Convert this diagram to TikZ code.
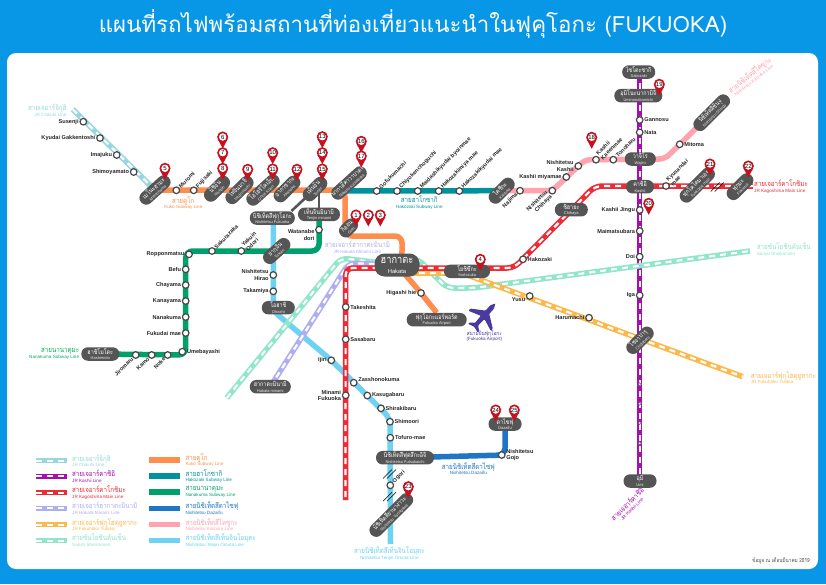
\documentclass[tikz,border=0pt]{standalone}
\usepackage{fontspec}
\setsansfont{Liberation Sans}
\newfontfamily\thaifont[Script=Thai]{Loma}
\newfontfamily\thainarrow[Script=Thai,FakeStretch=0.84]{Loma}
\usetikzlibrary{positioning}
\pgfdeclarelayer{lines}
\pgfsetlayers{lines,main}
\definecolor{skyblue}{HTML}{0897E6}
\definecolor{hubgray}{HTML}{555555}
\definecolor{pinred}{HTML}{C8101E}
\definecolor{chikuhi}{HTML}{98D7DE}
\definecolor{kashiiline}{HTML}{A80DB2}
\definecolor{kagoshima}{HTML}{EE2A35}
\definecolor{hakataminami}{HTML}{B0AEF2}
\definecolor{yutaka}{HTML}{FDB84A}
\definecolor{sanyo}{HTML}{90E6C8}
\definecolor{kuko}{HTML}{FF8E4E}
\definecolor{hakozaki}{HTML}{00929C}
\definecolor{nanakuma}{HTML}{00A06C}
\definecolor{dazaifu}{HTML}{1F76C6}
\definecolor{kaizuka}{HTML}{FFA3AE}
\definecolor{omuta}{HTML}{6ED2F3}
\definecolor{planeblue}{HTML}{4A399E}
\newcommand{\hth}[1]{{\thainarrow\fontsize{6.4}{5.6}\selectfont #1}}
\newcommand{\hen}[1]{{\sffamily\fontsize{4}{5}\selectfont\color{black!8} #1}}
\newcommand{\lth}[1]{{\thainarrow\fontsize{7.4}{6}\selectfont #1}}
\newcommand{\len}[1]{{\sffamily\fontsize{4.6}{5}\selectfont #1}}
\tikzset{
	lineplain/.style={line width=5.5pt,rounded corners=7pt},
	linejr/.style={line width=5.5pt,rounded corners=7pt,postaction={draw=white,line width=2.2pt,dash pattern=on 6pt off 5pt}},
	linkbar/.style={line width=2.6pt,draw=hubgray},
	slashmark/.style={line width=0.6pt,draw=black},
	hub/.style={rectangle,rounded corners=6.5pt,fill=hubgray,text=white,align=center,minimum height=13.5pt,inner sep=0pt,font=\fontsize{5}{5.6}\selectfont},
	hubwide/.style={hub,rounded corners=10pt,minimum height=23pt},
	stn/.style={circle,draw=black!72,fill=white,line width=1.2pt,minimum size=6.6pt,inner sep=0pt},
	stnsmall/.style={circle,draw=black!60,fill=white,line width=0.6pt,minimum size=3.2pt,inner sep=0pt},
	pinmark/.style={circle,draw=pinred,fill=white,line width=1.6pt,minimum size=9.4pt,inner sep=0pt,font=\sffamily\fontsize{6}{6}\selectfont},
	every label/.style={font=\sffamily\bfseries\fontsize{5.6}{6.4}\selectfont,inner sep=0.6pt,text=black!85},
	up45/.style={rotate=45,anchor=west,align=left},
	dn45/.style={rotate=45,anchor=east,align=right},
	linetag/.style={align=center,inner sep=0pt,font=\fontsize{5}{5.6}\selectfont},
}
\newcommand{\pinat}[3]{
	\fill [pinred] (#1-5,#2+2) -- (#1,#2+11.5) -- (#1+5,#2+2) -- cycle;
	\node [pinmark] (pin#3) at (#1,#2) {#3};
}
\newcommand{\slashat}[2]{
	\draw [slashmark] (#1-6,#2+4.5) -- (#1+3,#2-4.5);
	\draw [slashmark] (#1-2,#2+4.5) -- (#1+7,#2-4.5);
}
\newcommand{\legendrow}[7]{
	\coordinate (#1a) at (#2,#3);
	\coordinate (#1b) at (#2+31,#3);
	\draw [#4,draw=#5,rounded corners=0pt] (#1a) -- (#1b);
	\node [linetag,text=#5,anchor=west,align=left] (#1t) at (#2+36,#3) {\lth{#6}\\\len{#7}};
}
\begin{document}
\begin{tikzpicture}[x=1pt,y=-1pt]
		\useasboundingbox (0,0) rectangle (826,584);
		% background
		\begin{pgfonlayer}{lines}
		\fill [skyblue] (0,0) rectangle (826,584);
		\fill [white,rounded corners=9pt] (7,53) rectangle (818,569);
		\end{pgfonlayer}
		\node [text=white,font=\thaifont\fontsize{22.3}{24}\selectfont] (title) at (413,24) {แผนที่รถไฟพร้อมสถานที่ท่องเที่ยวแนะนำในฟุคุโอกะ (FUKUOKA)};
		% hubs
		\node [hub,rotate=42,minimum width=37pt] (meinohama) at (155,190) {\hth{เมโนะฮามะ}\\\hen{Meinohama}};
		\node [hub,rotate=45,minimum width=31pt] (nishijin) at (217,188.7) {\hth{นิชิจิน}\\\hen{Nishijin}};
		\node [hub,rotate=45,minimum width=34pt] (toujinmachi) at (239.5,190) {\hth{โทจินมาจิ}\\\hen{Toujinmachi}};
		\node [hub,rotate=42,minimum width=40pt] (ohori) at (263,190) {\hth{โอโฮริโคเอ็น}\\\hen{Ohori Koen}};
		\node [hub,rotate=45,minimum width=32pt] (akasaka) at (287,189) {\hth{อากาซากะ}\\\hen{Akasaka}};
		\node [hub,rotate=45,minimum width=29pt] (tenjin) at (315,189) {\hth{เท็นจิน}\\\hen{Tenjin}};
		\node [hub,rotate=42,minimum width=43pt] (nakasu) at (349,183) {\hth{นากาสึคาวาบาตะ}\\\hen{Nakasu Kawabata}};
		\node [hub,minimum width=45pt] (nishifukuoka) at (272.3,218) {\hth{นิชิเท็ตสึฟุกุโอกะ}\\\hen{Nishitetsu Fukuoka}};
		\node [hub,minimum width=42pt] (tenjinminami) at (319,214.3) {\hth{เท็นจินมินามิ}\\\hen{Tenjin minami}};
		\node [hub,rotate=45,minimum width=21pt] (gion) at (348.5,228) {\hth{กิออน}\\\hen{Gion}};
		\node [hubwide,minimum width=45pt,font=\fontsize{9}{10}\selectfont] (hakata) at (397,265) {{\thainarrow\fontsize{11}{10}\selectfont ฮากาตะ}\\{\sffamily\fontsize{5.8}{6}\selectfont Hakata}};
		\node [hub,minimum width=46pt] (yoshizuka) at (467,271.3) {\hth{โยชิซึกะ}\\\hen{Yoshizuka}};
		\node [hub,minimum width=60pt] (airport) at (436.7,319.7) {\hth{ฟุกุโอกะแอร์พอร์ต}\\\hen{Fukuoka Airport}};
		\node [hub,rotate=42,minimum width=32pt] (yakuin) at (276.7,251) {\hth{ยากุอิน}\\\hen{Yakuin}};
		\node [hub,minimum width=33pt] (ohashi) at (278.3,307.7) {\hth{โอฮาชิ}\\\hen{Ohashi}};
		\node [hub,minimum width=41pt] (hakataminamihub) at (270.3,386.7) {\hth{ฮากาตะมินามิ}\\\hen{Hakata minami}};
		\node [hub,minimum width=38pt] (hashimoto) at (100.3,354) {\hth{ฮาชิโมโตะ}\\\hen{Hashimoto}};
		\node [hub,rotate=45,minimum width=31pt] (kaizukahub) at (501.7,190.7) {\hth{ไคซึกะ}\\\hen{Kaizuka}};
		\node [hub,minimum width=33pt] (chihaya) at (571.3,209.7) {\hth{ชิฮายะ}\\\hen{Chihaya}};
		\node [hub,minimum width=31pt] (wajiro) at (640.3,159) {\hth{วาจิโร}\\\hen{Wajiro}};
		\node [hub,minimum width=28pt] (kashii) at (640,186.7) {\hth{คาชิอิ}\\\hen{Kashii}};
		\node [hub,minimum width=33pt] (saitozaki) at (638.7,72) {\hth{ไซโตะซากิ}\\\hen{Saitozaki}};
		\node [hub,minimum width=48pt] (uminonakamichi) at (638.3,95.7) {\hth{อุมิโนะนากามิจิ}\\\hen{Uminonakamichi}};
		\node [hub,rotate=45,minimum width=46pt] (shingu) at (711.7,112.7) {\hth{นิชิเท็ตสึชินงุ}\\\hen{Nishitetsu Shingu}};
		\node [hub,rotate=45,minimum width=44pt] (fukkodai) at (697.3,185) {\hth{ฟุกโคไดมาเอะ}\\\hen{Fukkodai mae}};
		\node [hub,rotate=45,minimum width=32pt] (fukuma) at (740,186.7) {\hth{ฟุกุมะ}\\\hen{Fukuma}};
		\node [hub,rotate=45,minimum width=33pt] (chojabaru) at (640,340.3) {\hth{โชจาบารุ}\\\hen{Chojabaru}};
		\node [hub,minimum width=33pt] (umi) at (640,481) {\hth{อุมิ}\\\hen{Umi}};
		\node [hub,minimum width=58pt] (futsukaichi) at (405,457.7) {\hth{นิชิเท็ตสึฟุตสึกะอิจิ}\\\hen{Nishitetsu Futsukaichi}};
		\node [hub,minimum width=33pt] (dazaifuhub) at (505,424) {\hth{ดาไซฟุ}\\\hen{Dazaifu}};
		\node [hub,rotate=45,minimum width=56pt] (yanagawa) at (391.3,515) {\hth{นิชิเท็ตสึยานางาวะ}\\\hen{Nishitetsu Yanagawa}};
		% stations
		\node [stn,label={left:Susenji}] (susenji) at (83.3,121.7) {};
		\node [stn,label={left:Kyudai Gakkentoshi}] (kyudai) at (100,138) {};
		\node [stn,label={left:Imajuku}] (imajuku) at (116.7,155) {};
		\node [stn,label={left:Shimoyamato}] (shimoyamato) at (133.7,172) {};
		\node [stn,label={[up45]45:Muromi}] (muromi) at (176.3,190.3) {};
		\node [stn,label={[up45]45:Fujisaki}] (fujisaki) at (193.7,190.3) {};
		\node [stn,label={[up45]45:Gofukumachi}] (gofukumachi) at (376.7,191) {};
		\node [stn,label={[up45]45:Chiyokenchoguchi}] (chiyoken) at (397,191) {};
		\node [stn,label={[up45]45:Maidashikyudai byoinmae}] (maidashi) at (417.7,191) {};
		\node [stn,label={[up45]45:Hakozakimiya mae}] (hakozakimiya) at (438.7,191) {};
		\node [stn,label={[up45]45:Hakozakikyudai mae}] (hakozakikyudai) at (459.3,191) {};
		\node [stn,label={[dn45]225:Najima}] (najima) at (520,190.7) {};
		\node [stn,label={[dn45]225:Nishitetsu\\Chihaya}] (nishichihaya) at (552.3,190.7) {};
		\node [stn,label={left:Kashii miyamae}] (kashiimiyamae) at (566.3,177) {};
		\node [stn,label={[align=right]left:Nishitetsu\\Kashii}] (nishikashii) at (578.3,166) {};
		\node [stn,label={[up45]45:Kashii\\Kaeenmae}] (kaeenmae) at (596,159.7) {};
		\node [stn,label={[up45]45:Tonoharu}] (tonoharu) at (613.3,159.7) {};
		\node [stn,label={right:Mitoma}] (mitoma) at (679.7,144.3) {};
		\node [stn,label={right:Gannosu}] (gannosu) at (639.7,120) {};
		\node [stn,label={right:Nata}] (nata) at (639.7,132.3) {};
		\node [stn,label={left:Kashii Jingu}] (kashiijingu) at (639.7,210) {};
		\node [stn,label={left:Maimatsubara}] (maimatsubara) at (639.7,231) {};
		\node [stn,label={left:Doi}] (doi) at (639.7,256.7) {};
		\node [stn,label={left:Iga}] (iga) at (639.7,295.3) {};
		\node [stnsmall] (kashiidot1) at (639.7,384.3) {};
		\node [stnsmall] (kashiidot2) at (639.7,403.7) {};
		\node [stnsmall] (kashiidot3) at (639.7,423) {};
		\node [stnsmall] (kashiidot4) at (639.7,443.3) {};
		\node [stn,label={[up45]45:Kyusandai\\mae}] (kyusandai) at (666,186) {};
		\node [stn,label={right:Hakozaki}] (hakozakistn) at (523,259.3) {};
		\node [stn,label={left:Higashi hie}] (higashihie) at (421,293) {};
		\node [stn,label={[anchor=north east]200:Yusu}] (yusu) at (529.7,296) {};
		\node [stn,label={left:Harumachi}] (harumachi) at (589,317.7) {};
		\node [stn,label={right:Takeshita}] (takeshita) at (345.7,307) {};
		\node [stn,label={right:Sasabaru}] (sasabaru) at (345.7,339.3) {};
		\node [stn,label={[align=right]left:Minami\\Fukuoka}] (minamifukuoka) at (345.7,395.3) {};
		\node [stn,label={left:Ijiri}] (ijiri) at (331.3,360.3) {};
		\node [stn,label={[anchor=south west]10:Zasshonokuma}] (zasshonokuma) at (353.7,382.7) {};
		\node [stn,label={right:Kasugabaru}] (kasugabaru) at (367.3,395.5) {};
		\node [stn,label={right:Shirakibaru}] (shirakibaru) at (381,408.3) {};
		\node [stn,label={right:Shimoori}] (shimoori) at (390,421.7) {};
		\node [stn,label={right:Tofuro-mae}] (tofuro) at (390.3,437.7) {};
		\node [stn,label={[up45]45:Ogori}] (ogori) at (390.3,485.3) {};
		\node [stn,label={[align=left]right:Nishitetsu\\Gojo}] (gojo) at (501.7,455) {};
		\node [stn,label={[align=right]left:Nishitetsu\\Hirao}] (hirao) at (273.3,275) {};
		\node [stn,label={left:Takamiya}] (takamiya) at (273.3,291.3) {};
		\node [stn,label={[align=right,anchor=north east]170:Watanabe\\dori}] (watanabe) at (319,229.7) {};
		\node [stn,label={[up45]45:Sakurazaka}] (sakurazaka) at (212,251) {};
		\node [stn,label={[up45]45:Yakuin\\Odori}] (yakuinodori) at (241.3,251) {};
		\node [stn,label={left:Ropponmatsu}] (ropponmatsu) at (189,254.3) {};
		\node [stn,label={left:Befu}] (befu) at (185.7,269.3) {};
		\node [stn,label={left:Chayama}] (chayama) at (185.7,285) {};
		\node [stn,label={left:Kanayama}] (kanayama) at (185.7,301) {};
		\node [stn,label={left:Nanakuma}] (nanakumastn) at (185.7,317) {};
		\node [stn,label={left:Fukudai mae}] (fukudai) at (185.7,333) {};
		\node [stn,label={right:Umebayashi}] (umebayashi) at (182.3,351.7) {};
		\node [stn,label={[dn45]225:Noke}] (noke) at (167.7,355) {};
		\node [stn,label={[dn45]225:Kamo}] (kamo) at (151.7,355) {};
		\node [stn,label={[dn45]225:Jiromaru}] (jiromaru) at (135.7,355) {};
		% bends and free ends
		\coordinate (chikuhiend) at (72.7,109.3);
		\coordinate (kukoa) at (345,190);
		\coordinate (kukob) at (345,236);
		\coordinate (kukoc) at (402,236);
		\coordinate (kukod) at (402,258);
		\coordinate (hakozakia) at (345,191);
		\coordinate (kaizukaa) at (585,159.7);
		\coordinate (kaizukab) at (665,159);
		\coordinate (kashiitop) at (639.7,72);
		\coordinate (kashiibot) at (639.7,481);
		\coordinate (kagoend) at (753,186);
		\coordinate (kagoa) at (595,186);
		\coordinate (kagob) at (514,268);
		\coordinate (kagoc) at (345.7,268);
		\coordinate (kagofoot) at (345.5,500);
		\coordinate (hakminama) at (349,263);
		\coordinate (sanyofoot) at (226.7,398);
		\coordinate (sanyoa) at (341,258);
		\coordinate (sanyob) at (417,258);
		\coordinate (sanyoc) at (447,288);
		\coordinate (sanyod) at (474,288);
		\coordinate (sanyoend) at (750,251);
		\coordinate (yutakaa) at (397,273);
		\coordinate (yutakab) at (462,273);
		\coordinate (yutakaend) at (742.7,376.7);
		\coordinate (omutaa) at (273.3,218);
		\coordinate (omutab) at (273.3,311);
		\coordinate (omutac) at (390,418);
		\coordinate (omutaend) at (390.5,544);
		\coordinate (nanaa) at (319,251);
		\coordinate (nanab) at (185.7,251);
		\coordinate (nanac) at (185.7,355);
		\coordinate (daza) at (505,455);
		% lines
		\begin{pgfonlayer}{lines}
		\draw [linejr,draw=kashiiline] (kashiitop) -- (kashiibot);
		\draw [linejr,draw=chikuhi] (chikuhiend) -- (meinohama.center);
		\draw [lineplain,draw=omuta] (omutaa) -- (omutab) -- (ijiri.center) -- (omutac) -- (omutaend);
		\draw [linejr,draw=sanyo] (sanyofoot) -- (sanyoa) -- (hakata.center) -- (sanyob) -- (sanyoc) -- (sanyod) -- (sanyoend);
		\draw [linejr,draw=hakataminami] (hakataminamihub.center) -- (hakminama) -- (hakata.center);
		\draw [linejr,draw=yutaka] (yutakaa) -- (yutakab) -- (yutakaend);
		\draw [linejr,draw=kagoshima] (kagoend) -- (kagoa) -- (kagob) -- (kagoc) -- (kagofoot);
		\draw [lineplain,draw=kuko] (meinohama.center) -- (kukoa) -- (kukob) -- (kukoc) -- (kukod) -- (hakata.center);
		\draw [lineplain,draw=kuko] (hakata.center) -- (higashihie.center) -- (airport.north);
		\draw [lineplain,draw=hakozaki] (hakozakia) -- (kaizukahub.center);
		\draw [lineplain,draw=nanakuma] (tenjinminami.center) -- (nanaa) -- (nanab) -- (nanac) -- (hashimoto.center);
		\draw [lineplain,draw=dazaifu] (futsukaichi.center) -- (daza) -- (dazaifuhub.center);
		\draw [lineplain,draw=kaizuka,rounded corners=6pt] (kaizukahub.center) -- (nishichihaya.center) -- (kaizukaa) -- (kaizukab) -- (shingu.center);
		\draw [linkbar] (tenjin.center) -- (nishifukuoka.20);
		\draw [linkbar] (tenjin.center -| tenjinminami) -- (tenjinminami.center);
		\end{pgfonlayer}
		\slashat{716.7}{187}
		\slashat{389}{474}
		\slashat{389}{496.7}
		% pins
		\pinat{165}{168.3}{5}
		\pinat{222.7}{137}{6}
		\pinat{222.7}{152.7}{7}
		\pinat{222.7}{168.3}{8}
		\pinat{247.7}{169.3}{9}
		\pinat{272.7}{152.7}{10}
		\pinat{272.7}{169}{11}
		\pinat{297}{169.3}{12}
		\pinat{322.3}{136.7}{13}
		\pinat{322.3}{152.7}{14}
		\pinat{322.3}{169}{15}
		\pinat{361.3}{141.3}{16}
		\pinat{361.3}{156}{17}
		\pinat{356}{215}{1}
		\pinat{368.3}{215}{2}
		\pinat{380.3}{215}{3}
		\pinat{480.3}{259.3}{4}
		\pinat{591.7}{137.3}{18}
		\pinat{659.3}{84.3}{19}
		\pinat{648.7}{203.3}{20}
		\pinat{710}{164}{21}
		\pinat{748.3}{166}{22}
		\pinat{408.3}{486.7}{23}
		\pinat{495.7}{410}{24}
		\pinat{514.3}{410}{25}
		% line names
		\node [linetag,text=chikuhi,anchor=east,align=right] (chikuhitag) at (66.7,110.5) {\lth{สายเจอาร์จิกุฮิ}\\\len{JR Chikuhi Line}};
		\node [linetag,text=kuko] (kukotag) at (183.3,203) {\lth{สายคูโก}\\\len{Kuko Subway Line}};
		\node [linetag,text=hakozaki] (hakozakitag) at (419.3,202.5) {\lth{สายฮาโกซากิ}\\\len{Hakozaki Subway Line}};
		\node [linetag,text=hakataminami] (minamitag) at (357.3,247.5) {\lth{สายเจอาร์ฮากาตะมินามิ}\\\len{JR Hakata Minami Line}};
		\node [linetag,text=nanakuma!85!green,anchor=east,align=right] (nanakumatag) at (79.3,354) {\lth{สายนานาคุมะ}\\\len{Nanakuma Subway Line}};
		\node [linetag,text=kagoshima,anchor=west,align=left] (kagoshimatag) at (754,186.5) {\lth{สายเจอาร์คาโกชิมะ}\\\len{JR Kagoshima Main Line}};
		\node [linetag,text=sanyo,anchor=west,align=left] (sanyotag) at (756.7,249.5) {\lth{สายซันโยชินคันเซ็น}\\\len{Sanyo Shinkansen}};
		\node [linetag,text=yutaka,anchor=west,align=left] (yutakatag) at (750.7,377.5) {\lth{สายเจอาร์ฟุกุโฮคุยูทากะ}\\\len{JR Fukuhoku Yutaka}};
		\node [linetag,text=kashiiline,rotate=45] (kashiitag) at (629,506) {\lth{สายเจอาร์คาชิอิ}\\\len{JR Kashii Line}};
		\node [linetag,text=kaizuka,rotate=38] (kaizukatag) at (751,77) {\lth{สายนิชิเท็ตสึไคซูกะ}\\\len{Nishitetsu Kaizuka Line}};
		\node [linetag,text=dazaifu] (dazaifutag) at (468.3,468.5) {\lth{สายนิชิเท็ตสึดาไซฟุ}\\\len{Nishitetsu Dazaifu}};
		\node [linetag,text=omuta] (omutatag) at (389.3,553.5) {\lth{สายนิชิเท็ตสึเท็นจินโอมุตะ}\\\len{Nishitetsu Tenjin Omuta Line}};
		% airport mark
		\begin{scope}[shift={(484,316)},rotate=-42]
		\fill [planeblue,rounded corners=0.8pt] (0,-17) -- (2.5,-12) -- (2.5,-5) -- (15,3.5) -- (15,6.5) -- (2.5,2) -- (2,11) -- (6.5,14.5) -- (6.5,16.5) -- (0,14.5) -- (-6.5,16.5) -- (-6.5,14.5) -- (-2,11) -- (-2.5,2) -- (-15,6.5) -- (-15,3.5) -- (-2.5,-5) -- (-2.5,-12) -- cycle;
		\end{scope}
		\node [linetag,text=planeblue] (airporttag) at (484.3,336) {{\thainarrow\fontsize{5.6}{6}\selectfont สนามบินฟุกุโอกะ}\\\len{(Fukuoka Airport)}};
		% legend
		\legendrow{legone}{36}{460.7}{linejr}{chikuhi}{สายเจอาร์จิกุฮิ}{JR Chikuhi Line}
		\legendrow{legtwo}{36}{476.3}{linejr}{kashiiline}{สายเจอาร์คาชิอิ}{JR Kashii Line}
		\legendrow{legthree}{36}{492.7}{linejr}{kagoshima}{สายเจอาร์คาโกชิมะ}{JR Kagoshima Main Line}
		\legendrow{legfour}{36}{508.3}{linejr}{hakataminami}{สายเจอาร์ฮากาตะมินามิ}{JR Hakata Minami Line}
		\legendrow{legfive}{36}{524.7}{linejr}{yutaka}{สายเจอาร์ฟุกุโฮคุยูทากะ}{JR Fukuhoku Yutaka}
		\legendrow{legsix}{36}{540.7}{linejr}{sanyo}{สายซันโยชินคันเซ็น}{Sanyo Shinkansen}
		\legendrow{legseven}{149.3}{460}{lineplain}{kuko}{สายคูโก}{Kuko Subway Line}
		\legendrow{legeight}{149.3}{476}{lineplain}{hakozaki}{สายฮาโกซากิ}{Hakozaki Subway Line}
		\legendrow{legnine}{149.3}{492}{lineplain}{nanakuma}{สายนานาคุมะ}{Nanakuma Subway Line}
		\legendrow{legten}{149.3}{508.3}{lineplain}{dazaifu}{สายนิชิเท็ตสึดาไซฟุ}{Nishitetsu Dazaifu}
		\legendrow{legeleven}{149.3}{524.7}{lineplain}{kaizuka}{สายนิชิเท็ตสึไคซูกะ}{Nishitetsu Kaizuka Line}
		\legendrow{legtwelve}{149.3}{540.7}{lineplain}{omuta}{สายนิชิเท็ตสึเท็นจินโอมุตะ}{Nishitetsu Tenjin Omuta Line}
		\node [anchor=east,text=black!70,inner sep=0pt,font=\thainarrow\fontsize{5.6}{6}\selectfont] (datanote) at (810,561) {ข้อมูล ณ เดือนมีนาคม 2019};
		\end{tikzpicture}
\end{document}
